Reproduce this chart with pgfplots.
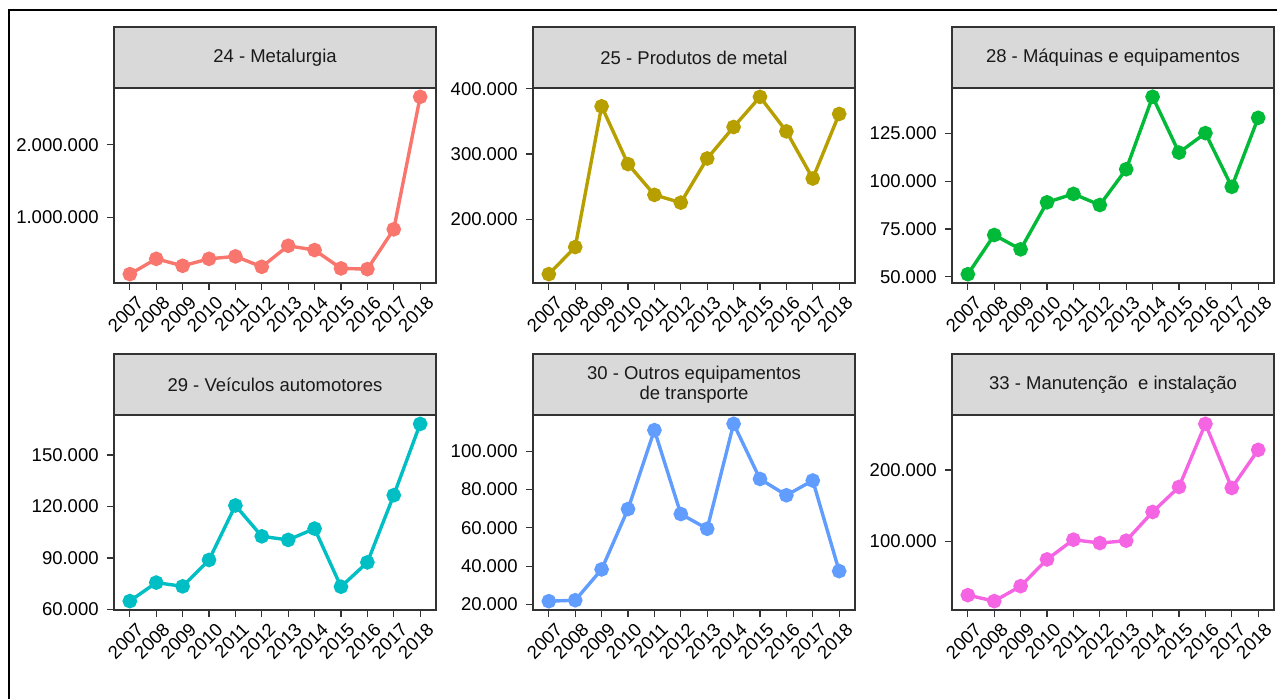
\documentclass[border=0pt]{standalone}
\usepackage{fontspec}
\setmainfont{Liberation Sans}
\usepackage{pgfplots}
\pgfplotsset{compat=1.18}
\definecolor{c1}{HTML}{F8766D}
\definecolor{c2}{HTML}{B79F00}
\definecolor{c3}{HTML}{00BA38}
\definecolor{c4}{HTML}{00BFC4}
\definecolor{c5}{HTML}{619CFF}
\definecolor{c6}{HTML}{F564E3}
\definecolor{gray85}{HTML}{D9D9D9}
\definecolor{gray20}{HTML}{333333}
\definecolor{gray10}{HTML}{1A1A1A}
\newcommand{\fs}{\fontsize{9.25}{10.2}\selectfont}
\pgfplotsset{
  panel/.style={
    scale only axis, width=161pt, height=97.5pt, anchor=north west,
    xmin=-0.6, xmax=11.6, xtick={0,...,11},
    xticklabels={2007,2008,2009,2010,2011,2012,2013,2014,2015,2016,2017,2018},
    axis line style={gray20, line width=0.6pt},
    tick style={gray20, line width=0.6pt},
    tick align=outside, major tick length=3.5pt,
    xtick pos=bottom, ytick pos=left,
    scaled y ticks=false,
    /pgf/number format/.cd, fixed, precision=0, 1000 sep={.}, assume math mode=true,
    /pgfplots/.cd,
    ticklabel style={font=\fs, text=black},
    xticklabel style={rotate=45, anchor=north east, inner sep=1pt, xshift=1.5pt, yshift=-2.5pt},
    yticklabel style={anchor=east, inner sep=4pt},
    every axis plot/.append style={line width=1.7pt, mark=*, mark size=2.8pt, mark options={solid}},
  }
}
\begin{document}
\begin{tikzpicture}
\useasboundingbox (0,0) rectangle (638.5pt,-349.5pt);
\draw[line width=1pt, black] (4.5pt,-349.5pt) -- (4.5pt,-5pt) -- (638.5pt,-5pt);

\begin{axis}[panel, name=a1, at={(57pt,-44pt)}, ymin=94000, ymax=2782000, ytick={1000000,2000000}]
\addplot[c1] coordinates {(0,216000) (1,427000) (2,331000) (3,427000) (4,461000) (5,317000) (6,607000) (7,548000) (8,295000) (9,285000) (10,834000) (11,2660000)};
\end{axis}

\begin{axis}[panel, name=a2, at={(266.5pt,-44pt)}, ymin=102300, ymax=401300, ytick={200000,300000,400000}]
\addplot[c2] coordinates {(0,115900) (1,157400) (2,373200) (3,284600) (4,237400) (5,225500) (6,293200) (7,341500) (8,387700) (9,334800) (10,262500) (11,361500)};
\end{axis}

\begin{axis}[panel, name=a3, at={(476pt,-44pt)}, ymin=46800, ymax=148800, ytick={50000,75000,100000,125000}]
\addplot[c3] coordinates {(0,51400) (1,71900) (2,64400) (3,89000) (4,93400) (5,87600) (6,106300) (7,144200) (8,115000) (9,125200) (10,97100) (11,133200)};
\end{axis}

\begin{axis}[panel, name=a4, at={(57pt,-207.5pt)}, ymin=59600, ymax=173400, ytick={60000,90000,120000,150000}]
\addplot[c4] coordinates {(0,64800) (1,75600) (2,73400) (3,88800) (4,120600) (5,102600) (6,100500) (7,107100) (8,73200) (9,87400) (10,126600) (11,168200)};
\end{axis}

\begin{axis}[panel, name=a5, at={(266.5pt,-207.5pt)}, ymin=17100, ymax=118900, ytick={20000,40000,60000,80000,100000}]
\addplot[c5] coordinates {(0,21700) (1,22200) (2,38300) (3,69800) (4,111000) (5,67200) (6,59500) (7,114300) (8,85500) (9,77000) (10,84700) (11,37400)};
\end{axis}

\begin{axis}[panel, name=a6, at={(476pt,-207.5pt)}, ymin=4000, ymax=276900, ytick={100000,200000}]
\addplot[c6] coordinates {(0,24800) (1,16400) (2,37400) (3,74800) (4,102400) (5,97700) (6,101000) (7,141200) (8,176200) (9,264500) (10,174800) (11,228100)};
\end{axis}

\foreach \a/\t in {a1/{24 - Metalurgia}, a2/{25 - Produtos de metal}, a3/{28 - Máquinas e equipamentos}, a4/{29 - Veículos automotores}, a5/{30 - Outros equipamentos\\de transporte}, a6/{33 - Manutenção~ e instalação}} {
  \draw[fill=gray85, draw=gray20, line width=0.6pt] (\a.north west) rectangle ([yshift=30.5pt]\a.north east);
  \node[font=\fs, text=gray10, align=center, inner sep=0pt] at ([yshift=15.25pt]\a.north) {\t};
}
\end{tikzpicture}
\end{document}
